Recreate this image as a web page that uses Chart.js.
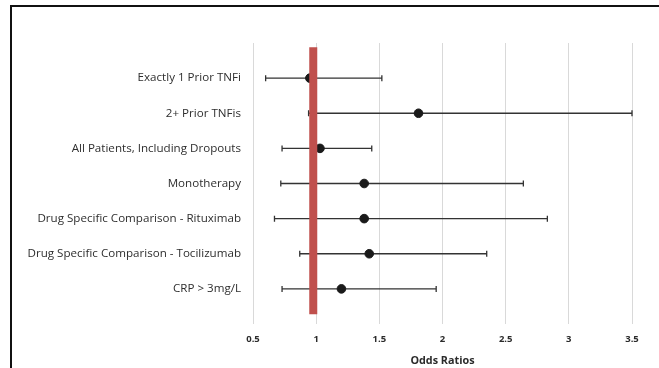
<!DOCTYPE html>
<html>
<head>
<meta charset="utf-8">
<script src="https://cdn.jsdelivr.net/npm/chart.js@4"></script>
<style>
    html, body { margin: 0; padding: 0; background: #fff; overflow: hidden; }
    #wrap { width: 659px; height: 368px; position: relative; }
</style>
</head>
<body>
<div id="wrap"><canvas id="oddsChart"></canvas></div>
<script>
const categories = [
    'Exactly 1 Prior TNFi',
    '2+ Prior TNFis',
    'All Patients, Including Dropouts',
    'Monotherapy',
    'Drug Specific Comparison - Rituximab',
    'Drug Specific Comparison - Tocilizumab',
    'CRP > 3mg/L'
];
const oddsRatios = [0.95, 1.81, 1.03, 1.38, 1.38, 1.42, 1.2];
const lowerCI = [0.6, 0.94, 0.73, 0.72, 0.67, 0.87, 0.73];
const upperCI = [1.52, 3.5, 1.44, 2.64, 2.83, 2.35, 1.95];
const xTicks = [0.5, 1, 1.5, 2, 2.5, 3, 3.5];
const refLine = 0.977;

const font = '"Open Sans", Lato, sans-serif';

// whiskers for the confidence intervals, drawn under the dots
const errorBars = {
    id: 'errorBars',
    beforeDatasetsDraw: (chart) => {
        const ctx = chart.ctx;
        const x = chart.scales.x;
        const y = chart.scales.y;
        ctx.save();
        ctx.strokeStyle = '#333333';
        ctx.lineWidth = 1.3;
        categories.forEach((c, i) => {
            const py = y.getPixelForValue(i + 1);
            const x1 = x.getPixelForValue(lowerCI[i]);
            const x2 = x.getPixelForValue(upperCI[i]);
            ctx.beginPath();
            ctx.moveTo(x1, py);
            ctx.lineTo(x2, py);
            ctx.moveTo(x1, py - 3);
            ctx.lineTo(x1, py + 3);
            ctx.moveTo(x2, py - 3);
            ctx.lineTo(x2, py + 3);
            ctx.stroke();
        });
        ctx.restore();
    }
};

// frame round the chart
const frame = {
    id: 'frame',
    afterDraw: (chart) => {
        const ctx = chart.ctx;
        ctx.save();
        ctx.strokeStyle = '#111111';
        ctx.lineWidth = 2;
        ctx.beginPath();
        ctx.moveTo(11, chart.height);
        ctx.lineTo(11, 6);
        ctx.lineTo(chart.width, 6);
        ctx.stroke();
        ctx.restore();
    }
};

new Chart(document.getElementById('oddsChart'), {
    type: 'scatter',
    data: {
        datasets: [
            {
                type: 'line',
                data: [{ x: refLine, y: 0.12 }, { x: refLine, y: 7.72 }],
                borderColor: '#C0504D',
                borderWidth: 8,
                borderCapStyle: 'butt',
                pointRadius: 0
            },
            {
                data: oddsRatios.map((v, i) => ({ x: v, y: i + 1 })),
                backgroundColor: '#1a1a1a',
                borderColor: '#1a1a1a',
                pointRadius: 4.3,
                pointHoverRadius: 4.3
            }
        ]
    },
    plugins: [errorBars, frame],
    options: {
        responsive: true,
        maintainAspectRatio: false,
        animation: false,
        layout: {
            padding: { left: 0, right: 27, top: 43, bottom: 0 }
        },
        plugins: {
            legend: { display: false },
            tooltip: { enabled: false }
        },
        scales: {
            x: {
                type: 'linear',
                min: 0.5,
                max: 3.5,
                afterBuildTicks: (axis) => {
                    axis.ticks = xTicks.map(v => ({ value: v }));
                },
                afterFit: (axis) => { axis.height = 44; },
                border: { display: false },
                grid: { color: '#d9d9d9', lineWidth: 1, drawTicks: false },
                ticks: {
                    padding: 10,
                    color: '#2b2b2b',
                    font: { family: font, size: 9.5, weight: 'bold' },
                    maxRotation: 0,
                    callback: (v) => String(v)
                },
                title: {
                    display: true,
                    text: 'Odds Ratios',
                    color: '#2b2b2b',
                    padding: { top: 0, bottom: 1 },
                    font: { family: font, size: 10.8, weight: 'bold' }
                }
            },
            y: {
                type: 'linear',
                min: 0,
                max: 8,
                reverse: true,
                afterBuildTicks: (axis) => {
                    axis.ticks = categories.map((c, i) => ({ value: i + 1 }));
                },
                afterFit: (axis) => { axis.width = 253; },
                border: { display: false },
                grid: { display: false, drawTicks: false },
                ticks: {
                    padding: 12,
                    color: '#2e2e2e',
                    font: { family: font, size: 11.6 },
                    callback: (v) => categories[v - 1] || ''
                }
            }
        }
    }
});
</script>
</body>
</html>
